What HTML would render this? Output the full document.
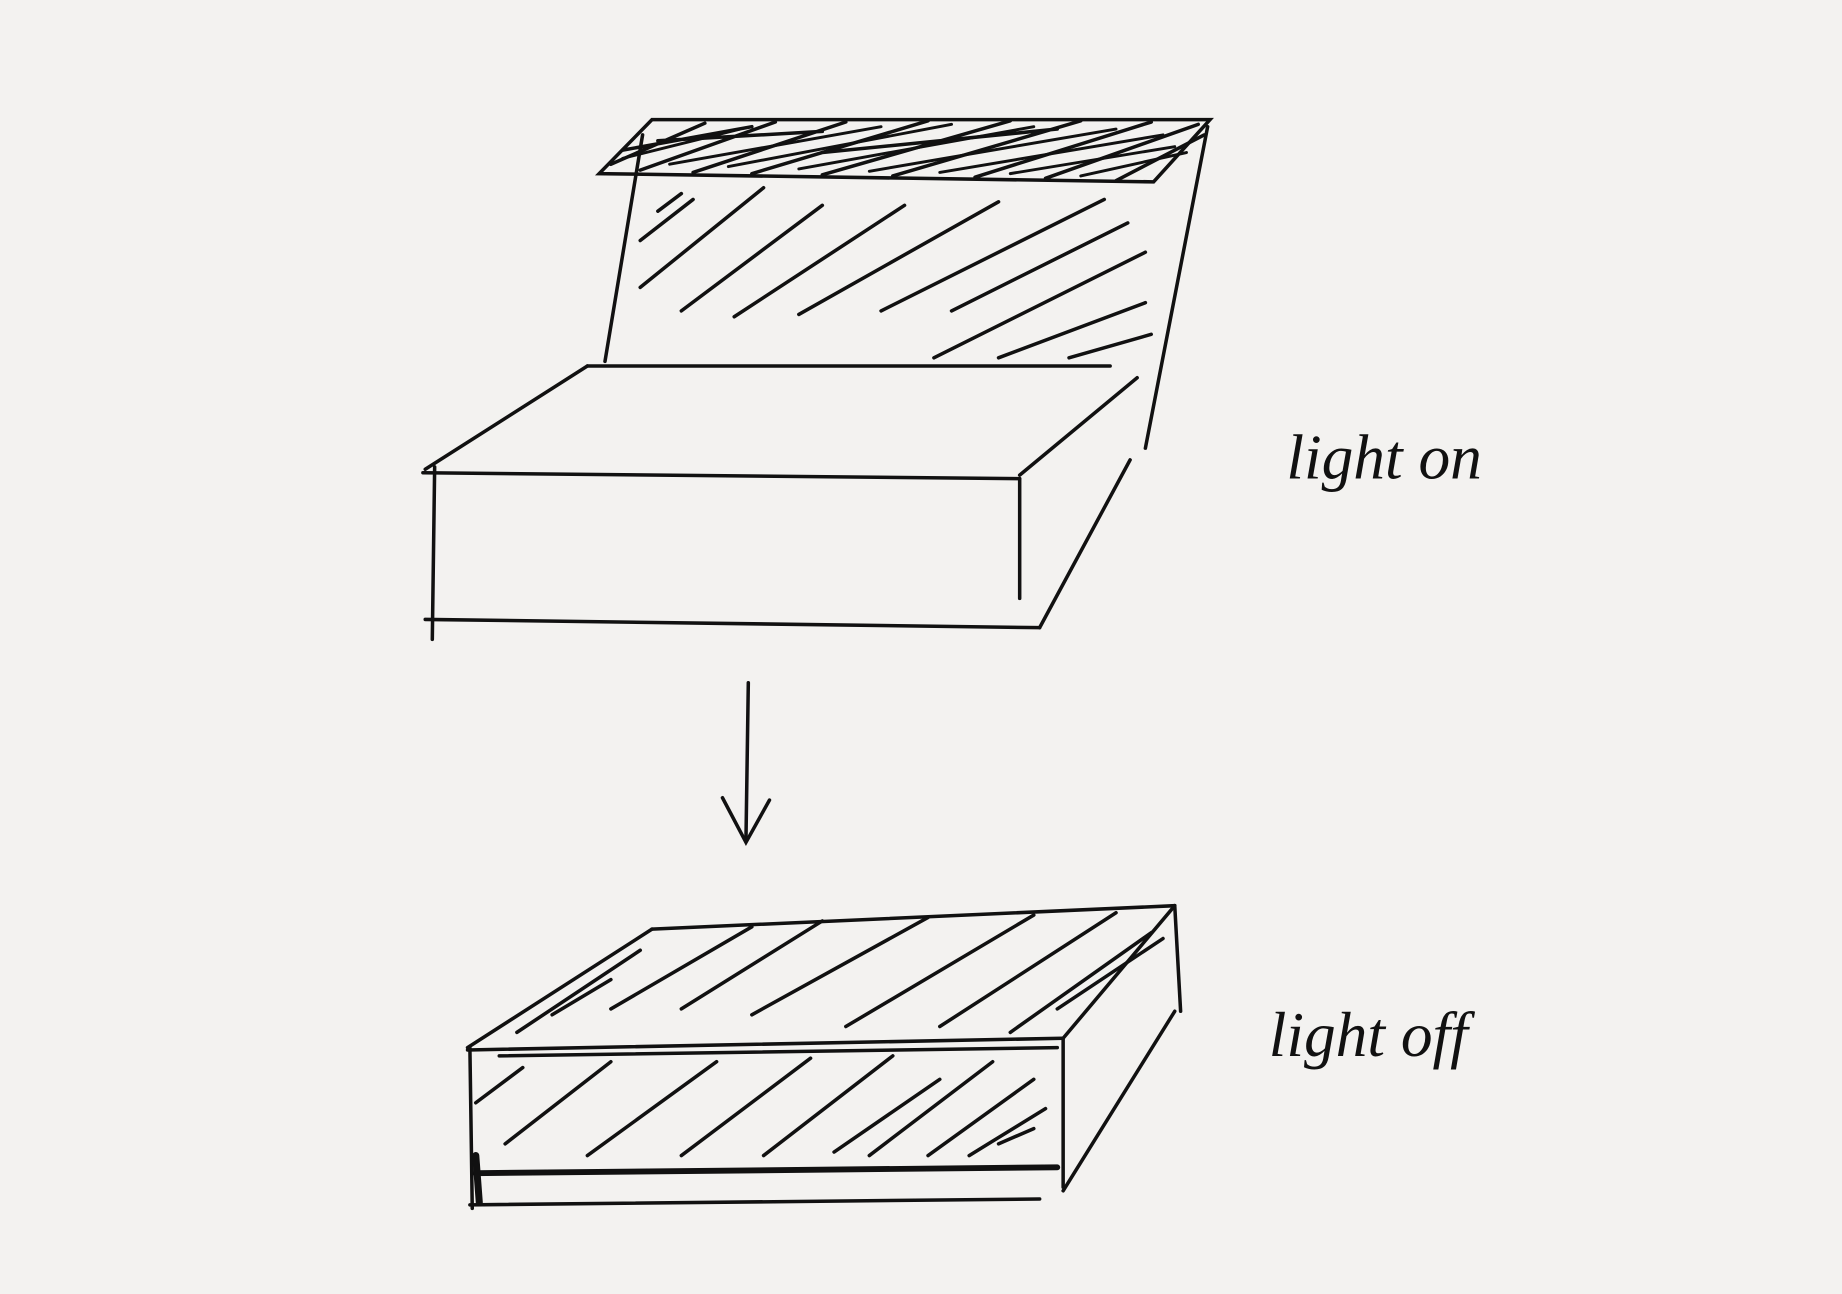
<!DOCTYPE html>
<html><head><meta charset="utf-8">
<style>
html,body{margin:0;padding:0;background:#f3f2f0;}
svg{display:block;}
text{font-family:"Liberation Serif",serif;font-style:italic;}
</style></head>
<body>
<svg width="1842" height="1294" viewBox="0 0 1568 1103" preserveAspectRatio="none" xmlns="http://www.w3.org/2000/svg">
<rect width="1568" height="1103" fill="#f3f2f0"/>
<g stroke="#111" stroke-width="3" fill="none" stroke-linecap="round">
  <g>
    <polygon points="555,102 1030,102 982,155 510,148"/>
    <path d="M520,140 L600,105 M545,145 L660,104 M590,147 L720,104 M640,148 L790,103 M700,149 L860,103 M760,150 L920,103 M830,151 L980,104 M890,152 L1020,106 M950,154 L1025,115 M530,128 L640,108 M700,130 L900,110 M560,120 L700,112"/>
    <path d="M530,135 L630,110 M570,140 L750,108 M620,142 L810,106 M680,144 L880,108 M740,146 L950,110 M800,147 L990,115 M860,148 L1000,125 M920,150 L1010,130" stroke-width="2.5"/>
  </g>
  <g>
    <path d="M547,115 L515,308"/>
    <path d="M1028,108 L975,382"/>
    <path d="M545,205 L590,170 M545,245 L650,160 M580,265 L700,175 M625,270 L770,175 M680,268 L850,172 M750,265 L940,170 M810,265 L960,190 M795,305 L975,215 M850,305 L975,258 M910,305 L980,285 M560,180 L580,165"/>
  </g>
  <g>
    <path d="M500,312 L945,312"/>
    <path d="M500,312 L362,400"/>
    <path d="M968,322 L868,405"/>
    <path d="M360,403 L868,408"/>
    <path d="M370,398 L368,545"/>
    <path d="M868,408 L868,510"/>
    <path d="M362,528 L885,535"/>
    <path d="M885,535 L962,392"/>
  </g>
</g>
<g stroke="#111" stroke-width="3" fill="none" stroke-linecap="round">
  <path d="M637,582 L635,716"/>
  <path d="M615,680 L635,718 L655,682"/>
</g>
<g stroke="#111" stroke-width="3" fill="none" stroke-linecap="round">
  <path d="M555,792 L1000,772"/>
  <path d="M555,792 L398,893"/>
  <path d="M1000,772 L905,885"/>
  <path d="M1000,772 L1005,862"/>
  <path d="M1000,862 L905,1015"/>
  <path d="M398,895 L905,885"/>
  <path d="M400,893 L402,1030"/>
  <path d="M400,1027 L885,1022"/>
  <path d="M905,885 L905,1012"/>
  <path d="M425,900 L900,893"/>
  <path d="M405,1000 L900,995" stroke-width="5"/>
  <path d="M405,985 L408,1025" stroke-width="6"/>
  <g>
    <path d="M440,880 L545,810 M520,860 L640,790 M580,860 L700,785 M640,865 L790,782 M720,875 L880,780 M800,875 L950,778 M860,880 L980,795 M900,860 L990,800 M470,865 L520,835"/>
  </g>
  <g>
    <path d="M405,940 L445,910 M430,975 L520,905 M500,985 L610,905 M580,985 L690,902 M650,985 L760,900 M710,982 L800,920 M740,985 L845,905 M790,985 L880,920 M825,985 L890,945 M850,975 L880,962"/>
  </g>
</g>
<text x="1095" y="408" font-size="54" fill="#111">light on</text>
<text x="1080" y="900" font-size="54" fill="#111">light off</text>
</svg>
</body></html>
